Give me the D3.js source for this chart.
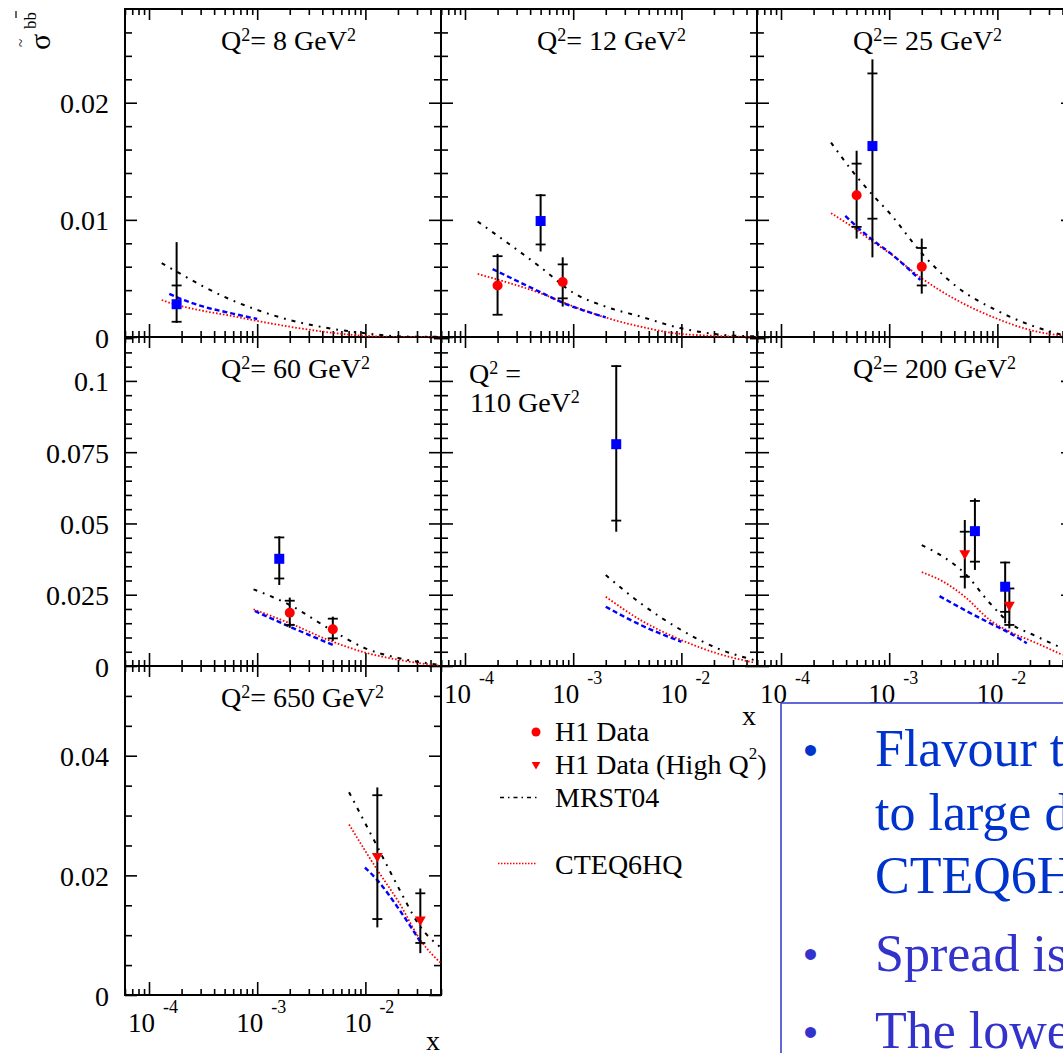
<!DOCTYPE html>
<html>
<head>
<meta charset="utf-8">
<script src="https://cdn.jsdelivr.net/npm/d3@7"></script>
<style>
  html, body { margin: 0; padding: 0; background: #fff; overflow: hidden; }
  svg { display: block; }
  text { font-family: "Liberation Serif", "Times New Roman", serif; }
</style>
</head>
<body>
<svg id="chart" width="1063" height="1053"></svg>
<script>
// ---------- values ----------
// Q^2 (GeV^2) of each panel, in reading order
const q2Values = ["8", "12", "25", "60", "110", "200", "650"];

// x range shared by all panels and the labelled decades
const xDomain = [6e-5, 0.05];
const xDecades = [1e-4, 1e-3, 1e-2];
const xDecadeExp = ["-4", "-3", "-2"];

// y range, labelled ticks and minor step for each row of panels
const rowYMax = [0.028, 0.1154, 0.055];
const rowMajorTicks = [[0, 0.01, 0.02], [0, 0.025, 0.05, 0.075, 0.1], [0, 0.02, 0.04]];
const rowTickLabels = [["0", "0.01", "0.02"], ["0", "0.025", "0.05", "0.075", "0.1"], ["0", "0.02", "0.04"]];
const rowMinorStep = [0.002, 0.005, 0.005];

// theory curves, one list of [x, sigma] per panel
const mrst04 = [
  [[1.31e-4, 0.0063], [1.8e-4, 0.00558], [3.2e-4, 0.0043], [5.8e-4, 0.00316], [1e-3, 0.00231], [2e-3, 0.00145], [4.1e-3, 0.00083], [1e-2, 0.00032], [2.2e-2, 0.00004], [5e-2, 0.00001]],
  [[1.31e-4, 0.00986], [5e-4, 0.00595], [1.02e-3, 0.00373], [2e-3, 0.00259], [4.2e-3, 0.00174], [1e-2, 0.00074], [2.5e-2, 0.00017], [5e-2, 0.00005]],
  [[2.9e-4, 0.0166], [5e-4, 0.0137], [7e-4, 0.01214], [1.01e-3, 0.01057], [2e-3, 0.00715], [4.2e-3, 0.0043], [9.7e-3, 0.0023], [2e-2, 0.00103], [4e-2, 0.00017]],
  [[9.25e-4, 0.0269], [2e-3, 0.0214], [5e-3, 0.0123], [1e-2, 0.0062], [2.07e-2, 0.0027], [4.9e-2, 0.0004]],
  [[2e-3, 0.0319], [4.2e-3, 0.022], [1e-2, 0.0126], [2.15e-2, 0.0062], [4.7e-2, 0.0021]],
  [[2e-3, 0.0424], [3.16e-3, 0.0383], [5e-3, 0.0325], [8.55e-3, 0.022], [1.31e-2, 0.015], [2.15e-2, 0.0109], [4e-2, 0.0062]],
  [[7.06e-3, 0.0339], [1.29e-2, 0.0248], [2.07e-2, 0.0176], [3.22e-2, 0.0114], [4.85e-2, 0.0081]]
];
const cteq6hq = [
  [[1.31e-4, 0.00316], [1.8e-4, 0.00274], [3.2e-4, 0.00222], [5.8e-4, 0.0018], [1e-3, 0.00137], [2e-3, 0.00088], [4.1e-3, 0.00045], [1e-2, 0.0001], [2.2e-2, 0.00001], [5e-2, 0]],
  [[1.31e-4, 0.00538], [5e-4, 0.00373], [1.02e-3, 0.00259], [2.1e-3, 0.0016], [4.2e-3, 0.00088], [1e-2, 0.00026], [5e-2, 0]],
  [[2.9e-4, 0.01057], [5e-4, 0.00915], [7e-4, 0.00815], [1.01e-3, 0.00715], [2e-3, 0.00501], [4.2e-3, 0.00316], [9.7e-3, 0.0016], [2e-2, 0.0006], [4e-2, 0.0001]],
  [[9.25e-4, 0.0199], [2e-3, 0.015], [5e-3, 0.0085], [1e-2, 0.0047], [2.07e-2, 0.0021], [4.9e-2, 0.0001]],
  [[2e-3, 0.0243], [4.2e-3, 0.0161], [1e-2, 0.0091], [2.15e-2, 0.0044], [4.7e-2, 0.0012]],
  [[2e-3, 0.0329], [3.16e-3, 0.0296], [5e-3, 0.0243], [8.55e-3, 0.0161], [1.31e-2, 0.012], [2.15e-2, 0.0085], [4e-2, 0.0039]],
  [[7.06e-3, 0.0285], [1.29e-2, 0.0209], [2.07e-2, 0.0153], [3.22e-2, 0.0092], [5e-2, 0.0053]]
];
const thirdPdf = [
  [[1.54e-4, 0.00368], [1.8e-4, 0.0034], [3.2e-4, 0.00259], [5.8e-4, 0.00202], [1e-3, 0.00154]],
  [[1.8e-4, 0.0058], [5e-4, 0.00382], [8e-4, 0.00293], [2e-3, 0.00168]],
  [[3.93e-4, 0.01034], [5e-4, 0.00943], [7e-4, 0.00829], [1.01e-3, 0.0072], [1.94e-3, 0.00487]],
  [[9.5e-4, 0.0193], [2e-3, 0.0138], [5e-3, 0.0074]],
  [[2e-3, 0.0208], [4.2e-3, 0.0144], [1e-2, 0.0085]],
  [[2.92e-3, 0.0245], [5e-3, 0.0196], [8.55e-3, 0.015], [1.31e-2, 0.0115], [1.87e-2, 0.008]],
  [[9.9e-3, 0.0213], [1.29e-2, 0.0192], [2.07e-2, 0.0142], [3.22e-2, 0.0089]]
];

// measurements: [panel, x, sigma, statLow, statHigh, totalLow, totalHigh]
const h1Data = [
  [1, 2e-4, 0.0044, 0.0019, 0.0069, 0.0019, 0.0071],
  [1, 8e-4, 0.0047, 0.0033, 0.0062, 0.0026, 0.0068],
  [2, 5e-4, 0.0121, 0.0094, 0.0148, 0.0084, 0.0159],
  [2, 2e-3, 0.0060, 0.0044, 0.0076, 0.0037, 0.0084],
  [3, 2e-3, 0.0187, 0.0144, 0.0229, 0.0134, 0.0240],
  [3, 5e-3, 0.0129, 0.0097, 0.0166, 0.0088, 0.0173]
];
const h1DataHighQ2 = [
  [5, 5e-3, 0.0395, 0.0313, 0.0471, 0.0272, 0.0512],
  [5, 1.29e-2, 0.0214, 0.0144, 0.0272, 0.0132, 0.0272],
  [6, 1.29e-2, 0.0232, 0.0127, 0.0334, 0.0113, 0.0347],
  [6, 3.22e-2, 0.0126, 0.0087, 0.0170, 0.0070, 0.0178]
];
const squareData = [
  [0, 1.8e-4, 0.0028, 0.0013, 0.0044, 0.0012, 0.0081],
  [1, 5e-4, 0.0099, 0.0079, 0.0121, 0.0073, 0.0122],
  [2, 7e-4, 0.0163, 0.0101, 0.0225, 0.0068, 0.0237],
  [3, 1.6e-3, 0.0376, 0.0307, 0.0451, 0.0284, 0.0455],
  [4, 2.5e-3, 0.0778, 0.0510, 0.1052, 0.0471, 0.1055],
  [5, 6.2e-3, 0.0473, 0.0366, 0.0579, 0.0337, 0.0588],
  [5, 1.18e-2, 0.0278, 0.0190, 0.0363, 0.0150, 0.0366]
];

const legendLabels = ["H1 Data", "H1 Data (High Q", "MRST04", "CTEQ6HQ"];
const notes = [
  ["Flavour threshold treatment leads", "to large differences between", "CTEQ6HQ and MRST04"],
  ["Spread is large"],
  ["The lowest x bins"]
];

// ---------- layout ----------
const svg = d3.select("#chart");
svg.append("rect").attr("width", 1063).attr("height", 1053).attr("fill", "#fff");

const panelSlots = [[0, 0], [0, 1], [0, 2], [1, 0], [1, 1], [1, 2], [2, 0]];
const xLabelPanels = [4, 5, 6];
const xTitlePanels = [4, 6];
const PW = 316;
const colLeft = [125, 441, 757];
const rowTop = [9, 337, 666];
const rowBottom = [337, 666, 995];

const xMinor = [];
[1e-5, 1e-4, 1e-3, 1e-2].forEach(b => {
  for (let m = 2; m <= 9; m++) {
    const v = +(m * b).toPrecision(3);
    if (v >= xDomain[0] && v <= xDomain[1]) xMinor.push(v);
  }
});
function yMinor(r) {
  const out = [];
  const st = rowMinorStep[r];
  for (let k = 1; k * st < rowYMax[r]; k++) {
    const v = +(k * st).toFixed(4);
    if (!rowMajorTicks[r].some(m => Math.abs(m - v) < 1e-9)) out.push(v);
  }
  return out;
}

const axesLayer = svg.append("g");
const plotLayer = svg.append("g");
const pointLayer = svg.append("g");
const textLayer = svg.append("g");

function styleAxis(sel) {
  sel.select(".domain").remove();
  sel.selectAll("line").attr("stroke", "#000").attr("stroke-width", 1.6);
  sel.attr("font-size", 28).attr("font-family", null);
}

// superscript helper: parts alternate normal / raised text
function supText(sel, parts, supSize, rise) {
  parts.forEach((p, k) => {
    const t = sel.append("tspan").text(p);
    if (k % 2 === 1) t.attr("font-size", supSize).attr("dy", -rise);
    else if (k > 0) t.attr("dy", rise);
  });
}

q2Values.forEach((q, i) => {
  const [r, c] = panelSlots[i];
  const x0 = colLeft[c], x1 = x0 + PW, y0 = rowTop[r], y1 = rowBottom[r];
  const xs = d3.scaleLog().domain(xDomain).range([x0, x1]);
  const ys = d3.scaleLinear().domain([0, rowYMax[r]]).range([y1, y0]);

  // ticks on all four sides, pointing inwards
  const minY = yMinor(r);
  const leftMajor = d3.axisLeft(ys).tickValues(rowMajorTicks[r]).tickSize(-12).tickPadding(16)
    .tickFormat((d, j) => c === 0 ? rowTickLabels[r][j] : "");
  axesLayer.append("g").attr("transform", `translate(${x0},0)`).call(leftMajor).call(styleAxis)
    .selectAll("text").attr("dy", "0.36em").attr("fill", "#000");
  axesLayer.append("g").attr("transform", `translate(${x0},0)`)
    .call(d3.axisLeft(ys).tickValues(minY).tickSize(-7).tickFormat("")).call(styleAxis);
  axesLayer.append("g").attr("transform", `translate(${x1},0)`)
    .call(d3.axisRight(ys).tickValues(rowMajorTicks[r]).tickSize(-12).tickFormat("")).call(styleAxis);
  axesLayer.append("g").attr("transform", `translate(${x1},0)`)
    .call(d3.axisRight(ys).tickValues(minY).tickSize(-7).tickFormat("")).call(styleAxis);
  axesLayer.append("g").attr("transform", `translate(0,${y1})`)
    .call(d3.axisBottom(xs).tickValues(xDecades).tickSize(-13).tickFormat("")).call(styleAxis);
  axesLayer.append("g").attr("transform", `translate(0,${y1})`)
    .call(d3.axisBottom(xs).tickValues(xMinor).tickSize(-6).tickFormat("")).call(styleAxis);
  axesLayer.append("g").attr("transform", `translate(0,${y0})`)
    .call(d3.axisTop(xs).tickValues(xDecades).tickSize(-11).tickFormat("")).call(styleAxis);
  axesLayer.append("g").attr("transform", `translate(0,${y0})`)
    .call(d3.axisTop(xs).tickValues(xMinor).tickSize(-6).tickFormat("")).call(styleAxis);

  axesLayer.append("rect").attr("x", x0).attr("y", y0).attr("width", PW).attr("height", y1 - y0)
    .attr("fill", "none").attr("stroke", "#000").attr("stroke-width", 2);

  // x tick labels 10^n
  if (xLabelPanels.includes(i)) {
    xDecades.forEach((v, j) => {
      const t = textLayer.append("text").attr("x", xs(v) - 21).attr("y", y1 + 37).attr("font-size", 27).attr("fill", "#000");
      t.append("tspan").text("10");
      t.append("tspan").attr("dx", 8).attr("dy", -19).attr("font-size", 18).text(xDecadeExp[j]);
    });
  }
  if (xTitlePanels.includes(i)) {
    textLayer.append("text").attr("x", x0 + 308).attr("y", Math.min(y1 + 59, 1050)).attr("font-size", 28)
      .attr("text-anchor", "middle").attr("fill", "#000").text("x");
  }

  // panel title
  if (q === "110") {
    const t1 = textLayer.append("text").attr("x", x0 + 28).attr("y", y0 + 46).attr("font-size", 28);
    supText(t1, ["Q", "2", " ="], 18, 9);
    const t2 = textLayer.append("text").attr("x", x0 + 29).attr("y", y0 + 75).attr("font-size", 28);
    supText(t2, ["110 GeV", "2"], 18, 9);
  } else {
    const t = textLayer.append("text").attr("x", x0 + 96).attr("y", y0 + 41).attr("font-size", 28);
    supText(t, ["Q", "2", "= " + q + " GeV", "2"], 18, 9);
  }

  // theory curves
  const clipId = "clip" + i;
  svg.append("clipPath").attr("id", clipId).append("rect")
    .attr("x", x0).attr("y", y0).attr("width", PW).attr("height", y1 - y0);
  const g = plotLayer.append("g").attr("clip-path", `url(#${clipId})`);
  const line = d3.line().x(d => xs(d[0])).y(d => ys(d[1])).curve(d3.curveMonotoneX);
  g.append("path").attr("d", line(cteq6hq[i])).attr("fill", "none")
    .attr("stroke", "#ff0000").attr("stroke-width", 1.8).attr("stroke-dasharray", "1.6,1.9");
  g.append("path").attr("d", line(thirdPdf[i])).attr("fill", "none")
    .attr("stroke", "#0000ff").attr("stroke-width", 2.4).attr("stroke-dasharray", "5,3");
  g.append("path").attr("d", line(mrst04[i])).attr("fill", "none")
    .attr("stroke", "#000").attr("stroke-width", 2).attr("stroke-dasharray", "4,6,1.8,6");

  // measurements with error bars
  const pts = [];
  h1Data.filter(d => d[0] === i).forEach(d => pts.push({ d, kind: "circle" }));
  squareData.filter(d => d[0] === i).forEach(d => pts.push({ d, kind: "square" }));
  h1DataHighQ2.filter(d => d[0] === i).forEach(d => pts.push({ d, kind: "tri" }));
  pts.forEach(({ d }) => {
    const px = xs(d[1]);
    pointLayer.append("line").attr("x1", px).attr("x2", px).attr("y1", ys(d[5])).attr("y2", ys(d[6]))
      .attr("stroke", "#000").attr("stroke-width", 2);
    [d[3], d[4]].forEach(v => pointLayer.append("line").attr("x1", px - 5).attr("x2", px + 5)
      .attr("y1", ys(v)).attr("y2", ys(v)).attr("stroke", "#000").attr("stroke-width", 1.8));
  });
  pts.forEach(({ d, kind }) => {
    const px = xs(d[1]), py = ys(d[2]);
    if (kind === "circle") {
      pointLayer.append("circle").attr("cx", px).attr("cy", py).attr("r", 5).attr("fill", "#ff0000");
    } else if (kind === "square") {
      pointLayer.append("path").attr("d", d3.symbol(d3.symbolSquare, 100)())
        .attr("transform", `translate(${px},${py})`).attr("fill", "#0000ff");
    } else {
      pointLayer.append("path").attr("d", d3.symbol(d3.symbolTriangle, 52)())
        .attr("transform", `translate(${px},${py}) rotate(180)`).attr("fill", "#ff0000");
    }
  });
});

// y-axis title: sigma-tilde with b b-bar superscript
const yt = textLayer.append("g").attr("transform", "translate(50,50) rotate(-90)");
yt.append("text").attr("x", 0).attr("y", 0).attr("font-size", 30).text("σ");
yt.append("text").attr("x", 7).attr("y", -24).attr("font-size", 15).attr("text-anchor", "middle").text("~");
yt.append("text").attr("x", 21).attr("y", -14).attr("font-size", 17).text("bb");
yt.append("line").attr("x1", 32).attr("x2", 39).attr("y1", -34).attr("y2", -34)
  .attr("stroke", "#000").attr("stroke-width", 1.2);

// legend
const lg = textLayer.append("g");
const lgY = [741, 773.5, 806.5, 873.5];
lg.append("circle").attr("cx", 536).attr("cy", lgY[0] - 9).attr("r", 4.5).attr("fill", "#ff0000");
lg.append("path").attr("d", d3.symbol(d3.symbolTriangle, 34)())
  .attr("transform", `translate(536,${lgY[1] - 9}) rotate(180)`).attr("fill", "#ff0000");
lg.append("line").attr("x1", 500).attr("x2", 537).attr("y1", lgY[2] - 9).attr("y2", lgY[2] - 9)
  .attr("stroke", "#000").attr("stroke-width", 1.5).attr("stroke-dasharray", "4,4,1.5,4");
lg.append("line").attr("x1", 498).attr("x2", 537).attr("y1", lgY[3] - 10).attr("y2", lgY[3] - 10)
  .attr("stroke", "#ff0000").attr("stroke-width", 1.5).attr("stroke-dasharray", "1.5,1.5");
lg.append("text").attr("x", 555).attr("y", lgY[0]).attr("font-size", 28).text(legendLabels[0]);
const l2 = lg.append("text").attr("x", 555).attr("y", lgY[1]).attr("font-size", 28);
supText(l2, [legendLabels[1], "2", ")"], 17, 15);
lg.append("text").attr("x", 555).attr("y", lgY[2]).attr("font-size", 28).text(legendLabels[2]);
lg.append("text").attr("x", 555).attr("y", lgY[3]).attr("font-size", 28).text(legendLabels[3]);

// text box with bullet notes
const box = svg.append("g");
box.append("rect").attr("x", 781).attr("y", 703).attr("width", 400).attr("height", 420)
  .attr("fill", "#fff").attr("stroke", "#3a44d0").attr("stroke-width", 1.6);
const noteColors = ["#0033cc", "#3333cc", "#3333cc"];
let by = 766;
notes.forEach((lines, k) => {
  box.append("text").attr("x", 810.5).attr("y", by - 2.5).attr("font-size", 40)
    .attr("text-anchor", "middle").style("font-family", "'Liberation Sans', Arial, sans-serif")
    .attr("fill", noteColors[k]).text("•");
  lines.forEach((ln, j) => {
    box.append("text").attr("x", 875).attr("y", by + j * 63.5).attr("font-size", 52)
      .attr("fill", noteColors[k]).text(ln);
  });
  by += lines.length * 63.5 + 14;
});
</script>
</body>
</html>
